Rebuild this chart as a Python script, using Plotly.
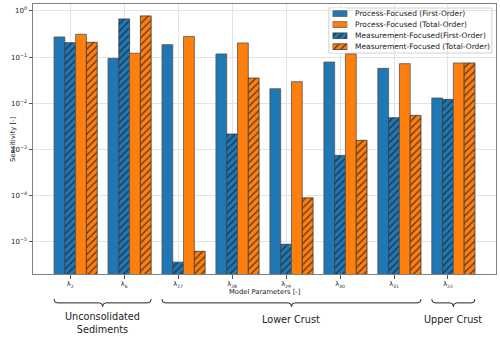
import plotly.graph_objects as go

# Parameter labels (tick text) and group names
params = ["λ<sub>2</sub>", "λ<sub>6</sub>", "λ<sub>27</sub>", "λ<sub>28</sub>",
          "λ<sub>29</sub>", "λ<sub>30</sub>", "λ<sub>31</sub>", "λ<sub>22</sub>"]

process_first = [0.273, 0.094, 0.186, 0.117, 0.0206, 0.078, 0.057, 0.013]
measure_first = [0.205, 0.67, 3.6e-6, 0.00215, 8.8e-6, 7.4e-4, 4.85e-3, 0.0121]
process_total = [0.312, 0.121, 0.28, 0.202, 0.0293, 0.117, 0.072, 0.0745]
measure_total = [0.209, 0.78, 6.2e-6, 0.0352, 8.9e-5, 1.57e-3, 5.45e-3, 0.0745]

groups = ["Unconsolidated<br>Sediments", "Lower Crust", "Upper Crust"]
group_spans = [(0, 1), (2, 6), (7, 7)]

BLUE = "#1f77b4"
ORANGE = "#ff7f0e"
W = 0.2
idx = list(range(len(params)))


def hatch(color, hatched):
    if not hatched:
        return dict(shape="")
    return dict(shape="/", fgcolor="#1a1a1a", bgcolor=color, size=5,
                solidity=0.25, fgopacity=0.75)


def edge(hatched):
    return dict(color="#3a3a3a" if hatched else "#555555", width=0.8)


series = [
    # name, values, color, hatched, slot in group, legend row
    ("Process-Focused (First-Order)", process_first, BLUE, False, 0, 0),
    ("Measurement-Focused(First-Order)", measure_first, BLUE, True, 1, 2),
    ("Process-Focused (Total-Order)", process_total, ORANGE, False, 2, 1),
    ("Measurement-Focused (Total-Order)", measure_total, ORANGE, True, 3, 3),
]

fig = go.Figure()
for name, vals, color, hatched, slot, row in series:
    fig.add_trace(go.Bar(
        x=[i + W * slot for i in idx],
        y=vals,
        width=W,
        name=name,
        showlegend=False,
        marker=dict(color=color, pattern=hatch(color, hatched), line=edge(hatched)),
    ))

# hand-built legend (compact, matplotlib-like); rows live on a small overlay axis
legend_rows = [13.5, 24.5, 35.7, 46.7]
for name, vals, color, hatched, slot, row in series:
    fig.add_trace(go.Bar(
        x=[1], y=[legend_rows[row]], base=0, width=5.7, orientation="h",
        xaxis="x2", yaxis="y2", showlegend=False, hoverinfo="skip",
        marker=dict(color=color, pattern=hatch(color, hatched), line=edge(hatched)),
    ))
    fig.add_annotation(x=0.692, y=legend_rows[row], xref="paper", yref="y2",
                       text=name, showarrow=False, xanchor="left",
                       font=dict(size=7.5, color="#222222"))
fig.add_shape(type="rect", xref="paper", yref="paper",
              x0=0.639, x1=0.991, y0=0.8185, y1=0.985,
              fillcolor="rgba(255,255,255,0.8)", line=dict(color="#d0d0d0", width=1),
              layer="between")

# curly braces under the axis marking parameter groups
y0, yup, ydn = -0.107, -0.093, -0.121
for label, (a, b) in zip(groups, group_spans):
    x0, x1 = a - W / 2, b + 3 * W + W / 2
    xc = (x0 + x1) / 2
    d = 0.06
    path = (f"M {x0},{yup} Q {x0},{y0} {x0 + d},{y0} L {xc - d},{y0} "
            f"Q {xc},{y0} {xc},{ydn} Q {xc},{y0} {xc + d},{y0} "
            f"L {x1 - d},{y0} Q {x1},{y0} {x1},{yup}")
    fig.add_shape(type="path", path=path, xref="x", yref="paper",
                  line=dict(color="#222222", width=1))
    two_lines = "<br>" in label
    fig.add_annotation(x=xc, y=-0.181 if two_lines else -0.168, xref="x", yref="paper",
                       text=label, showarrow=False, yanchor="middle",
                       font=dict(size=9.7, color="#222222"))

# axis titles
fig.add_annotation(x=0.5, y=-0.065, xref="paper", yref="paper",
                   text="Model Parameters [-]", showarrow=False, yanchor="middle",
                   font=dict(size=6.8, color="#222222"))
fig.add_annotation(x=-0.056, y=0.5, xref="paper", yref="paper",
                   text="Sensitivity [-]", showarrow=False, textangle=-90,
                   font=dict(size=6.8, color="#222222"))

dec = [0, -1, -2, -3, -4, -5]
fig.update_layout(
    width=500, height=337,
    margin=dict(l=33, r=4, t=4, b=63),
    barmode="overlay",
    plot_bgcolor="white",
    paper_bgcolor="white",
    font=dict(family="DejaVu Sans", size=7, color="#222222"),
    showlegend=False,
    xaxis=dict(
        range=[-0.49, 8.09],
        tickvals=[i + W for i in idx],
        ticktext=params,
        ticks="outside", ticklen=3.5, tickcolor="#555",
        tickfont=dict(size=6.5),
        showgrid=True, gridcolor="#e3e3e3",
        showline=True, linecolor="#808080", mirror=True,
        zeroline=False, automargin=False,
    ),
    yaxis=dict(
        type="log",
        range=[-5.70, 0.15],
        tickvals=[10 ** d for d in dec],
        ticktext=[f"10<sup>{'−' if d < 0 else ''}{abs(d)}</sup>" for d in dec],
        ticks="outside", ticklen=3.5, tickcolor="#555",
        tickfont=dict(size=7),
        showgrid=True, gridcolor="#e3e3e3",
        showline=True, linecolor="#808080", mirror=True,
        zeroline=False, automargin=False,
    ),
    xaxis2=dict(domain=[0.647, 0.679], range=[0, 1], anchor="y2", visible=False,
                fixedrange=True),
    yaxis2=dict(domain=[0.8185, 0.985], range=[53, 8], anchor="x2", visible=False,
                fixedrange=True),
)

# drop the browser's default 8px body margin so the figure sits at the page corner
fig.write_html("out.html", config={"displayModeBar": False},
               post_script="document.body.style.margin='0';")
